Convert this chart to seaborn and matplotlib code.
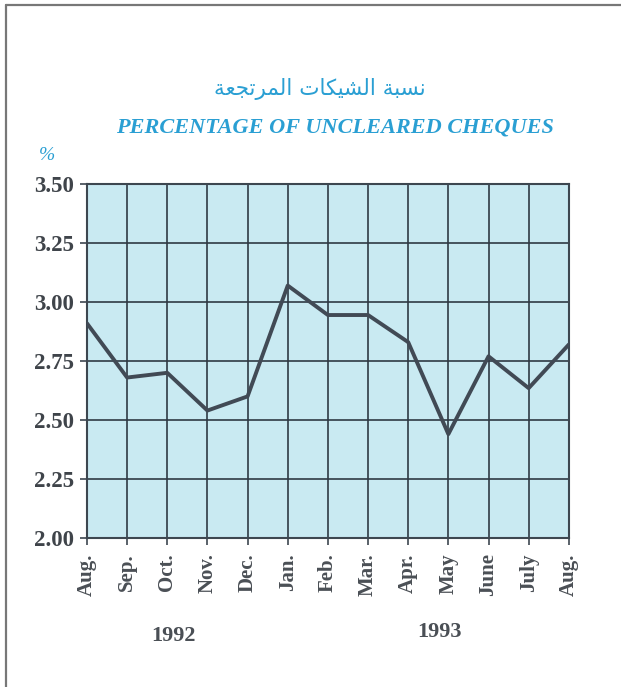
import matplotlib
matplotlib.use("Agg")
import matplotlib.pyplot as plt
import numpy as np
import seaborn as sns

months = ["Aug.", "Sep.", "Oct.", "Nov.", "Dec.", "Jan.", "Feb.", "Mar.",
          "Apr.", "May", "June", "July", "Aug."]
uncleared_pct = [2.91, 2.68, 2.70, 2.54, 2.60, 3.07, 2.945, 2.945,
                 2.83, 2.44, 2.77, 2.635, 2.82]
y_ticks = [2.00, 2.25, 2.50, 2.75, 3.00, 3.25, 3.50]
years = ["1992", "1993"]

title_ar = "نسبة الشيكات المرتجعة"
title_en = "PERCENTAGE OF UNCLEARED CHEQUES"

# matplotlib has no arabic shaping, so map to presentation forms by hand
ar_forms = {
    "نسبة": "\uFEE7\uFEB4\uFE92\uFE94",
    "الشيكات": "\uFE8D\uFEDF\uFEB8\uFEF4\uFEDC\uFE8E\uFE95",
    "المرتجعة": "\uFE8D\uFEDF\uFEE4\uFEAE\uFE97\uFEA0\uFECC\uFE94",
}
shaped = " ".join(ar_forms[w] for w in title_ar.split(" "))
title_ar_visual = shaped[::-1]

blue = "#2a9fd3"
ink = "#3d4750"

sns.set_style("white")
plt.rcParams["font.family"] = ["Liberation Serif", "DejaVu Serif"]

fig = plt.figure(figsize=(6.21, 6.87), dpi=100)
ax = fig.add_axes([0.140, 0.217, 0.776, 0.515])
ax.set_facecolor("#c9eaf2")

x = np.arange(len(months))
sns.lineplot(x=x, y=uncleared_pct, ax=ax, color="#414a55", linewidth=2.8,
             zorder=3)

ax.set_xlim(0, len(months) - 1)
ax.set_ylim(2.0, 3.5)
ax.set_xticks(x)
ax.set_xticklabels(months, rotation=90, fontsize=15, fontweight="bold",
                   color="#4a4f55")
ax.set_yticks(y_ticks)
ax.set_yticklabels([f"{v:.2f}" for v in y_ticks], fontsize=16.5,
                   fontweight="bold", color="#3f444a")
ax.tick_params(axis="both", direction="out", length=5, width=1.2,
               color=ink, left=True, bottom=True, pad=4)
ax.tick_params(axis="x", pad=6)
ax.grid(True, color="#2f3a44", linewidth=1.2, zorder=1)
ax.set_axisbelow(True)
for s in ax.spines.values():
    s.set_color(ink)
    s.set_linewidth(1.5)
ax.set_xlabel("")
ax.set_ylabel("")

fig.text(0.515, 0.870, title_ar_visual, ha="center", va="center",
         fontsize=15.5, color=blue,
         family=["DejaVu Sans", "Noto Sans", "Liberation Sans"])
fig.text(0.54, 0.815, title_en, ha="center", va="center", fontsize=16,
         fontweight="bold", style="italic", color=blue)
fig.text(0.075, 0.773, "%", ha="center", va="center", fontsize=14,
         style="italic", color=blue)
fig.text(0.279, 0.074, years[0], ha="center", va="center", fontsize=16,
         fontweight="bold", color="#4a4f55")
fig.text(0.708, 0.080, years[1], ha="center", va="center", fontsize=16,
         fontweight="bold", color="#4a4f55")

# page frame
fig.add_artist(plt.Line2D([0.009, 0.009], [0.0, 0.993], color="#777777",
                          linewidth=1.6, transform=fig.transFigure))
fig.add_artist(plt.Line2D([0.009, 1.0], [0.993, 0.993], color="#777777",
                          linewidth=1.6, transform=fig.transFigure))

fig.savefig("out.png", dpi=100)
